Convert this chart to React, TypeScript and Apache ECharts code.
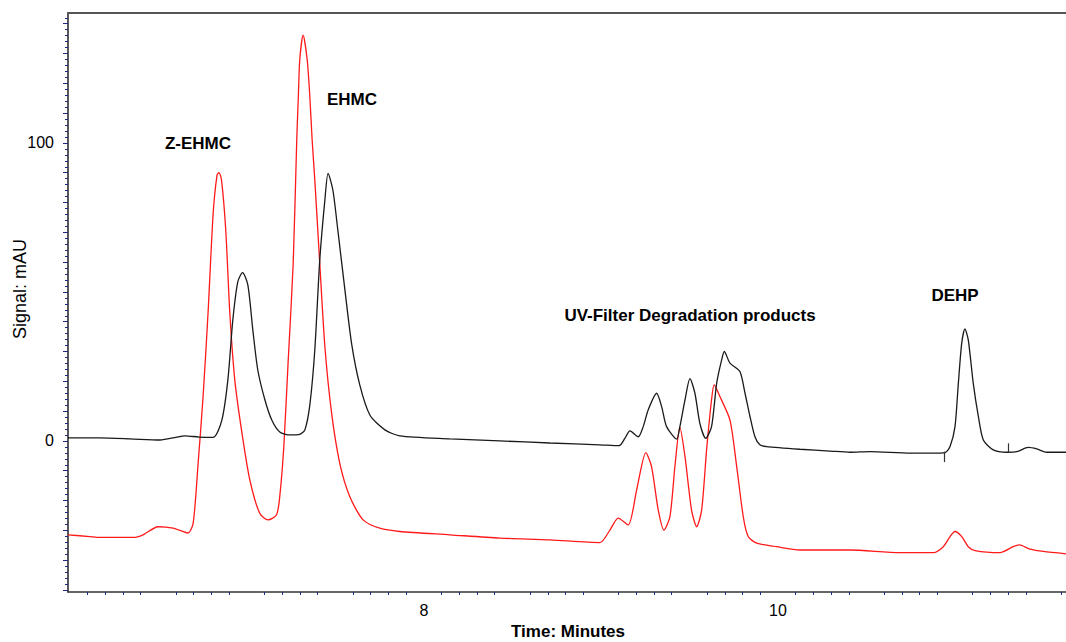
import { useEffect, useRef } from "react";
import * as echarts from "echarts";

// ---- data (time in minutes, signal in mAU) ----
const blackTrace: [number, number][] = [
  [5.99, 1.0], [6.17, 1.0], [6.34, 0.7], [6.51, 0.3], [6.6, 1.2], [6.65, 1.7], [6.73, 1.3], [6.81, 1.2],
  [6.859, 7.0], [6.893, 20.5], [6.921, 40.6], [6.949, 53.4], [6.976, 56.5], [7.006, 52.3], [7.034, 37.2],
  [7.062, 23.8], [7.102, 13.8], [7.141, 7.0], [7.186, 3.0], [7.243, 2.0], [7.299, 2.2], [7.328, 3.7],
  [7.356, 12.1], [7.384, 30.5], [7.412, 60.7], [7.441, 80.9], [7.459, 89.8], [7.486, 84.2], [7.514, 70.8],
  [7.554, 50.7], [7.593, 32.2], [7.638, 18.8], [7.695, 8.7], [7.78, 3.7], [7.864, 1.7], [8.147, 0.7],
  [8.429, 0.0], [8.712, -0.7], [8.994, -1.3], [9.103, -1.6], [9.136, 0.9], [9.164, 3.4], [9.211, 1.4],
  [9.239, 4.8], [9.267, 10.4], [9.315, 16.0], [9.343, 11.5], [9.371, 4.8], [9.428, 0.6], [9.446, 4.8],
  [9.475, 13.8], [9.503, 20.9], [9.531, 16.0], [9.559, 5.9], [9.592, 0.9], [9.625, 4.8], [9.654, 19.4],
  [9.682, 27.2], [9.697, 30.0], [9.729, 26.1], [9.785, 23.3], [9.814, 16.0], [9.842, 8.2], [9.87, 1.4],
  [9.898, -1.3], [9.936, -1.9], [10.124, -2.8], [10.294, -3.4], [10.407, -3.8], [10.52, -3.6],
  [10.746, -4.1], [10.868, -4.1], [10.944, -3.9], [10.972, -1.9], [11.0, 4.8], [11.019, 19.4],
  [11.038, 32.8], [11.056, 37.6], [11.075, 33.9], [11.103, 19.4], [11.132, 8.2], [11.16, 0.3],
  [11.216, -3.0], [11.292, -3.8], [11.349, -3.6], [11.414, -2.2], [11.462, -2.7], [11.518, -3.8],
  [11.627, -3.8],
];

const redTrace: [number, number][] = [
  [5.99, -31.5], [6.113, -32.1], [6.169, -32.4], [6.358, -32.4], [6.414, -31.5], [6.499, -28.8],
  [6.584, -29.3], [6.668, -30.9], [6.697, -27.6], [6.725, -7.5], [6.753, 14.9], [6.781, 42.9],
  [6.81, 76.4], [6.832, 89.3], [6.843, 90.0], [6.857, 87.6], [6.881, 70.8], [6.904, 42.9], [6.932, 20.5],
  [6.97, 3.7], [7.017, -13.1], [7.073, -24.3], [7.12, -26.5], [7.168, -24.8], [7.186, -18.7],
  [7.209, -1.9], [7.233, 26.1], [7.262, 59.6], [7.282, 101.0], [7.291, 115.5], [7.299, 127.9],
  [7.318, 136.2], [7.341, 127.9], [7.356, 115.5], [7.369, 101.0], [7.384, 87.6], [7.412, 59.6],
  [7.441, 31.6], [7.479, 9.3], [7.525, -7.5], [7.582, -18.7], [7.657, -26.5], [7.751, -29.3],
  [7.864, -30.4], [8.147, -31.5], [8.429, -32.6], [8.712, -33.2], [8.994, -34.1], [9.051, -29.9],
  [9.098, -25.9], [9.154, -28.2], [9.202, -16.4], [9.254, -3.9], [9.286, -8.6], [9.324, -23.2],
  [9.356, -29.9], [9.39, -25.4], [9.418, -8.6], [9.446, 4.6], [9.475, -5.3], [9.512, -23.2],
  [9.541, -28.8], [9.569, -23.2], [9.597, -3.0], [9.625, 13.8], [9.64, 18.8], [9.672, 14.9],
  [9.729, 7.0], [9.767, -8.6], [9.804, -25.4], [9.832, -32.1], [9.88, -34.3], [9.993, -35.5],
  [10.124, -36.6], [10.407, -36.6], [10.689, -37.5], [10.878, -37.5], [10.934, -35.5], [10.972, -32.1],
  [11.0, -30.4], [11.038, -32.1], [11.075, -35.5], [11.113, -36.8], [11.254, -37.5], [11.329, -35.5],
  [11.363, -34.9], [11.424, -36.3], [11.499, -37.1], [11.627, -37.9],
];

// integration markers on the DEHP peak: [time, yFrom, yTo]
const integrationMarks: [number, number, number][] = [
  [10.938, -7.1, -3.6],
  [11.298, -0.8, -3.8],
];

const xLabelValues = [8, 10];
const yLabelValues = [0, 100];
const peakLabels = ["Z-EHMC", "EHMC", "UV-Filter Degradation products", "DEHP"];
const xAxisTitle = "Time: Minutes";
const yAxisTitle = "Signal: mAU";

const X_MIN = 5.99;
const X_MAX = 11.627;
const Y_MIN = -50.7;
const Y_MAX = 143.6;

function range(from: number, to: number, step: number, skip?: (v: number) => boolean) {
  const out: number[] = [];
  for (let i = Math.ceil(from / step - 1e-9); i * step <= to + 1e-9; i++) {
    const v = Math.round(i * step * 1000) / 1000;
    if (!skip || !skip(v)) out.push(v);
  }
  return out;
}

export default function App() {
  const ref = useRef<HTMLDivElement>(null);
  useEffect(() => {
    if (!ref.current) return;
    const chart = echarts.init(ref.current, undefined, { renderer: "svg" });
    const font = "'Liberation Sans', Arial, sans-serif";
    const tickColor = "#1f2a80";
    const xMinor = range(6.0, 11.6, 0.1, (v) => Math.abs(v * 2 - Math.round(v * 2)) < 1e-6);
    const yMed = range(-50, 140, 10);
    const yMinor = range(-50, 142, 2, (v) => v % 10 === 0);
    const labelFont = `bold 17px ${font}`;

    chart.setOption({
      animation: false,
      backgroundColor: "#ffffff",
      grid: { left: 68, top: 13, right: 0, bottom: 50 },
      xAxis: [
        {
          type: "value",
          min: X_MIN,
          max: X_MAX,
          position: "bottom",
          axisLine: { show: true, onZero: false, lineStyle: { color: "#333", width: 1.5 } },
          axisTick: { show: true, customValues: xMinor, length: 3, lineStyle: { color: tickColor, width: 1 } },
          axisLabel: {
            show: true,
            customValues: xLabelValues,
            margin: 10,
            color: "#000",
            fontSize: 16,
            fontFamily: font,
          },
          splitLine: { show: false },
        },
        {
          type: "value",
          min: X_MIN,
          max: X_MAX,
          position: "top",
          axisLine: { show: true, onZero: false, lineStyle: { color: "#555", width: 2 } },
          axisTick: { show: false },
          axisLabel: { show: false },
          splitLine: { show: false },
        },
      ],
      yAxis: [
        {
          type: "value",
          min: Y_MIN,
          max: Y_MAX,
          axisLine: { show: true, onZero: false, lineStyle: { color: "#222", width: 1.5 } },
          axisTick: { show: true, customValues: yMed, length: 5, lineStyle: { color: tickColor, width: 1 } },
          axisLabel: {
            show: true,
            customValues: yLabelValues,
            margin: 14,
            color: "#000",
            fontSize: 16,
            fontFamily: font,
          },
          splitLine: { show: false },
        },
        {
          type: "value",
          min: Y_MIN,
          max: Y_MAX,
          position: "left",
          axisLine: { show: false },
          axisTick: { show: true, customValues: yMinor, length: 3, lineStyle: { color: tickColor, width: 1 } },
          axisLabel: { show: false },
          splitLine: { show: false },
        },
      ],
      series: [
        {
          type: "line",
          name: "red",
          data: redTrace,
          showSymbol: false,
          smooth: 0.25,
          lineStyle: { color: "#ff1a1a", width: 1.3 },
          silent: true,
        },
        {
          type: "line",
          name: "black",
          data: blackTrace,
          showSymbol: false,
          smooth: 0.25,
          lineStyle: { color: "#1a1a1a", width: 1.3 },
          silent: true,
          markLine: {
            silent: true,
            symbol: "none",
            label: { show: false },
            lineStyle: { color: "#333", width: 1.2, type: "solid" },
            data: integrationMarks.map(([t, a, b]) => [{ coord: [t, a] }, { coord: [t, b] }]),
          },
        },
      ],
      graphic: [
        {
          type: "text",
          x: 198,
          y: 143,
          style: { text: peakLabels[0], font: labelFont, fill: "#000", textAlign: "center", textVerticalAlign: "middle" },
        },
        {
          type: "text",
          x: 352,
          y: 99,
          style: { text: peakLabels[1], font: labelFont, fill: "#000", textAlign: "center", textVerticalAlign: "middle" },
        },
        {
          type: "text",
          x: 690,
          y: 315,
          style: { text: peakLabels[2], font: labelFont, fill: "#000", textAlign: "center", textVerticalAlign: "middle" },
        },
        {
          type: "text",
          x: 955,
          y: 295,
          style: { text: peakLabels[3], font: labelFont, fill: "#000", textAlign: "center", textVerticalAlign: "middle" },
        },
        {
          type: "text",
          x: 568,
          y: 631,
          style: { text: xAxisTitle, font: `bold 17px ${font}`, fill: "#000", textAlign: "center", textVerticalAlign: "middle" },
        },
        {
          type: "text",
          x: 20,
          y: 289,
          rotation: Math.PI / 2,
          style: { text: yAxisTitle, font: `18px ${font}`, fill: "#000", textAlign: "center", textVerticalAlign: "middle" },
        },
      ],
    });
    return () => chart.dispose();
  }, []);
  return (
    <div
      ref={ref}
      style={{ position: "fixed", left: 0, top: 0, width: 1066, height: 642, background: "#fff" }}
    />
  );
}
